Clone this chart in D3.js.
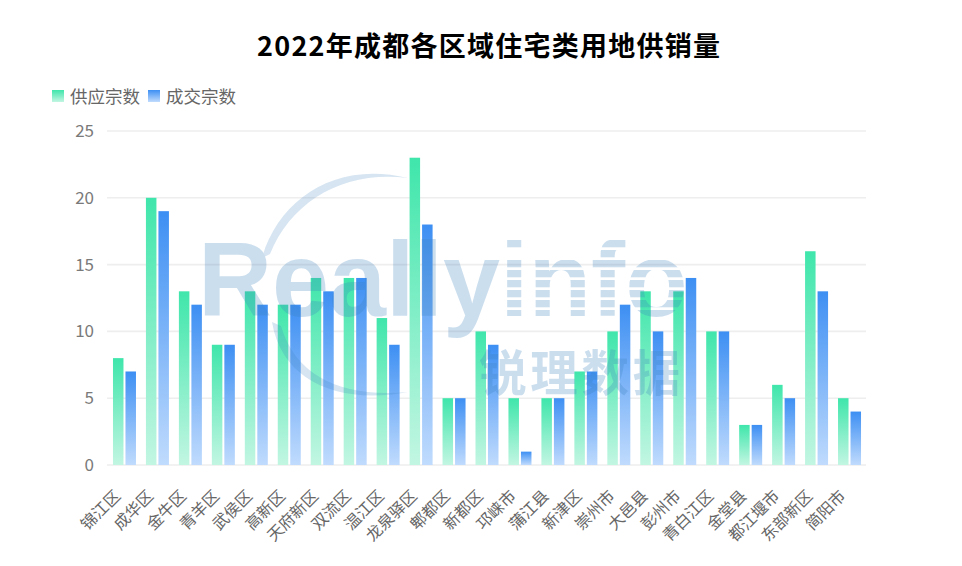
<!DOCTYPE html>
<html><head><meta charset="utf-8">
<script src="https://cdn.jsdelivr.net/npm/d3@7"></script>
<style>
html,body{margin:0;padding:0;background:#fff;}
text{font-family:"Noto Sans CJK SC","Noto Sans",sans-serif;}
</style></head>
<body><svg id="chart" width="962" height="566"></svg>
<script>
const title = "2022年成都各区域住宅类用地供销量";
const categories = ["锦江区","成华区","金牛区","青羊区","武侯区","高新区","天府新区","双流区","温江区","龙泉驿区","郫都区","新都区","邛崃市","蒲江县","新津区","崇州市","大邑县","彭州市","青白江区","金堂县","都江堰市","东部新区","简阳市"];
const seriesNames = ["供应宗数","成交宗数"];
const supply = [8,20,13,9,13,12,14,14,11,23,5,10,5,5,7,10,13,13,10,3,6,16,5];
const deal   = [7,19,12,9,12,12,13,14,9,18,5,9,1,5,7,12,10,14,10,3,5,13,4];
const yTicks = [0,5,10,15,20,25];

const svg = d3.select("#chart");
const m = {left:108, right:866, top:131, bottom:465};

const defs = svg.append("defs");
function grad(id, top, bottom){
  const g = defs.append("linearGradient").attr("id",id).attr("x1",0).attr("y1",0).attr("x2",0).attr("y2",1);
  g.append("stop").attr("offset","0%").attr("stop-color",top);
  g.append("stop").attr("offset","100%").attr("stop-color",bottom);
}
grad("gGreen","#3fe6ab","#c2f6e2");
grad("gBlue","#3d8ff3","#c0dbfd");

const x = d3.scaleBand().domain(categories).range([m.left,m.right]).paddingInner(0).paddingOuter(0);
const y = d3.scaleLinear().domain([0,25]).range([m.bottom,m.top]);
const barW = 10.5, gap = 2;

// title
svg.append("text").attr("x",488.5).attr("y",56).attr("text-anchor","middle")
  .attr("font-size",27).attr("font-weight","bold").attr("fill","#000")
  .attr("textLength",463).attr("lengthAdjust","spacing").text(title);

// legend
const legend = [{name:seriesNames[0],fill:"url(#gGreen)",x:52},{name:seriesNames[1],fill:"url(#gBlue)",x:148}];
legend.forEach(l=>{
  svg.append("rect").attr("x",l.x).attr("y",90).attr("width",12).attr("height",12).attr("fill",l.fill);
  svg.append("text").attr("x",l.x+18).attr("y",102.5).attr("font-size",17.5).attr("fill","#666").text(l.name);
});

// grid
svg.append("g").selectAll("line").data(yTicks).join("line")
  .attr("x1",m.left-1).attr("x2",m.right).attr("y1",d=>y(d)).attr("y2",d=>y(d))
  .attr("stroke","#eeeeee").attr("stroke-width",1.6);

// y axis labels
const yAxis = d3.axisLeft(y).tickValues(yTicks).tickSize(0).tickPadding(14);
const yg = svg.append("g").attr("transform",`translate(${m.left},0)`).call(yAxis);
yg.select(".domain").remove();
yg.selectAll("text").attr("font-size",17).attr("fill","#7a7a7a").attr("font-family","'Noto Sans',sans-serif");

// bars
const bw = x.bandwidth();
const off0 = (bw - (2*barW+gap))/2;
svg.append("g").selectAll("rect").data(categories).join("rect")
  .attr("x",d=>x(d)+off0).attr("width",barW)
  .attr("y",(d,i)=>y(supply[i])).attr("height",(d,i)=>y(0)-y(supply[i]))
  .attr("fill","url(#gGreen)");
svg.append("g").selectAll("rect").data(categories).join("rect")
  .attr("x",d=>x(d)+off0+barW+gap).attr("width",barW)
  .attr("y",(d,i)=>y(deal[i])).attr("height",(d,i)=>y(0)-y(deal[i]))
  .attr("fill","url(#gBlue)");

// x labels
svg.append("g").selectAll("text").data(categories).join("text")
  .attr("transform",d=>`translate(${x(d)+bw/2-3},497) rotate(-45)`)
  .attr("text-anchor","end").attr("font-size",16).attr("fill","#666").text(d=>d);

// watermark (one text element; striped "info" part via mask on a wrapper group)
const pat = defs.append("pattern").attr("id","stripes").attr("patternUnits","userSpaceOnUse")
  .attr("width",20).attr("height",10);
pat.append("rect").attr("width",20).attr("height",7.3).attr("fill","#fff");
const mask = defs.append("mask").attr("id","wmMask").attr("maskUnits","userSpaceOnUse")
  .attr("x",0).attr("y",0).attr("width",962).attr("height",566);
mask.append("rect").attr("x",0).attr("y",0).attr("width",962).attr("height",566).attr("fill","#fff");
mask.append("rect").attr("x",500).attr("y",0).attr("width",462).attr("height",343).attr("fill","#000");
mask.append("rect").attr("x",500).attr("y",0).attr("width",462).attr("height",343).attr("fill","url(#stripes)");

const wm = svg.append("g").attr("fill","rgb(60,130,190)").attr("opacity",0.26).attr("pointer-events","none");
const sx = 0.967;
const wt = wm.append("g").attr("mask","url(#wmMask)")
  .append("text").attr("transform",`translate(198,316) scale(${sx},1)`);
wt.append("tspan").attr("x",0).attr("y",0).attr("font-size",106).attr("font-weight","bold")
  .attr("font-family","'Liberation Sans',Arial,sans-serif").text("Reallyinfo");
wt.append("tspan").attr("x",(479-198)/sx).attr("y",75).attr("font-size",49).attr("font-weight","bold")
  .attr("font-family","'Noto Sans CJK SC',sans-serif").attr("letter-spacing",4).text("锐理数据");
wm.append("path").attr("d","M262,258 C278,200 335,160 408,178 C345,170 292,200 270,254 Z").attr("opacity",0.8);
wm.append("path").attr("d","M272,322 C282,382 340,405 408,392 C345,398 296,378 281,326 Z").attr("opacity",0.8);
</script></body></html>
